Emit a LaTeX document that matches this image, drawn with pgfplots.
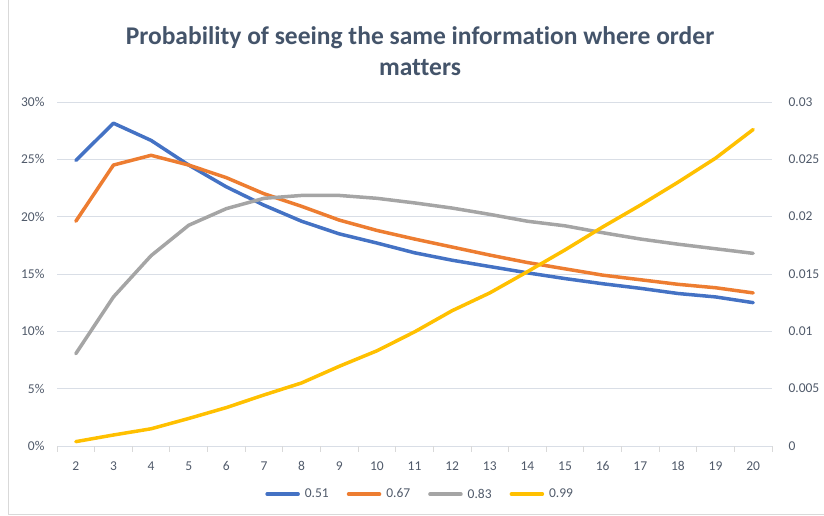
\documentclass[border=0pt]{standalone}
\usepackage{fontspec}
\setmainfont{Carlito}[Ligatures=NoCommon]
\usepackage{pgfplots}
\pgfplotsset{compat=1.18}
\definecolor{cblue}{HTML}{4472C4}
\definecolor{corange}{HTML}{ED7D31}
\definecolor{cgray}{HTML}{A5A5A5}
\definecolor{cyellow}{HTML}{FFC000}
\definecolor{ctitle}{HTML}{44546A}
\definecolor{ctick}{HTML}{505A6A}
\definecolor{cgrid}{HTML}{D9DEE6}
\definecolor{cframe}{HTML}{D9D9D9}
\begin{document}
\begin{tikzpicture}[x=1bp,y=1bp]
\path[use as bounding box] (0,0) rectangle (824,516);
\draw[cframe,line width=0.8bp] (8,516) -- (8,2) -- (824,2);
\node[text=ctitle,font=\fontsize{25.5bp}{31bp}\selectfont\bfseries,align=center] at (420,465) {Probability of seeing the same information where order\\matters};
\pgfplotsset{
  common/.style={
    scale only axis, width=715bp, height=344bp,
    at={(57bp,70bp)}, anchor=south west,
    xmin=1.5, xmax=20.5,
    ticklabel style={text=ctick,font=\fontsize{13.5bp}{15bp}\selectfont},
    /pgf/number format/assume math mode=true,
    axis line style={draw=none},
    major tick length=0pt,
    scaled y ticks=false,
  }
}
\begin{axis}[common,
  axis x line*=bottom, axis y line*=left,
  ymin=0, ymax=30,
  ytick={0,5,...,30},
  yticklabel={\pgfmathprintnumber{\tick}\%},
  xtick={2,...,20},
  extra x ticks={1.5,2.5,...,20.5},
  extra x tick labels={},
  extra x tick style={major tick length=6bp, tick align=outside, tick style={cframe,line width=0.8bp}},
  ymajorgrids, grid style={cgrid,line width=0.8bp},
  xticklabel style={yshift=-12bp},
  yticklabel style={xshift=-9bp},
  legend columns=4,
  legend style={draw=none, fill=none, at={(0.508,-0.14)}, anchor=center,
    font=\fontsize{13.5bp}{15bp}\selectfont, text=ctick,
    /tikz/every odd column/.append style={column sep=3bp},
    /tikz/every even column/.append style={column sep=16bp}},
  legend image code/.code={\draw[#1, line width=3.5bp, line cap=round] (0bp,0bp) -- (31bp,0bp);},
]
\addplot[cblue, line width=3.5bp, line cap=round, line join=round] coordinates {
(2,24.9) (3,28.15) (4,26.65) (5,24.5) (6,22.6) (7,21.0) (8,19.6) (9,18.5) (10,17.7) (11,16.85)
(12,16.2) (13,15.65) (14,15.1) (15,14.6) (16,14.15) (17,13.75) (18,13.3) (19,13.0) (20,12.5)};
\addlegendentry{0.51}
\addplot[corange, line width=3.5bp, line cap=round, line join=round] coordinates {
(2,19.6) (3,24.5) (4,25.35) (5,24.5) (6,23.4) (7,22.0) (8,20.9) (9,19.7) (10,18.8) (11,18.05)
(12,17.35) (13,16.65) (14,16.0) (15,15.45) (16,14.9) (17,14.5) (18,14.1) (19,13.8) (20,13.35)};
\addlegendentry{0.67}
\addplot[cgray, line width=3.5bp, line cap=round, line join=round] coordinates {
(2,8.05) (3,13.0) (4,16.6) (5,19.25) (6,20.7) (7,21.6) (8,21.85) (9,21.85) (10,21.6) (11,21.2)
(12,20.75) (13,20.2) (14,19.6) (15,19.2) (16,18.6) (17,18.05) (18,17.6) (19,17.2) (20,16.8)};
\addlegendentry{0.83}
\addlegendimage{cyellow}
\addlegendentry{0.99}
\end{axis}
\begin{axis}[common,
  axis x line=none, axis y line*=right,
  ymin=0, ymax=0.03,
  ytick={0,0.005,0.01,0.015,0.02,0.025,0.03},
  yticklabels={0,0.005,0.01,0.015,0.02,0.025,0.03},
  yticklabel style={anchor=west, xshift=13bp},
]
\addplot[cyellow, line width=3.5bp, line cap=round, line join=round] coordinates {
(2,0.00038) (3,0.00096) (4,0.0015) (5,0.0024) (6,0.00335) (7,0.00445) (8,0.0055) (9,0.00695) (10,0.0083) (11,0.00995)
(12,0.0118) (13,0.01335) (14,0.0152) (15,0.0171) (16,0.0191) (17,0.0210) (18,0.0230) (19,0.0251) (20,0.0276)};
\end{axis}
\end{tikzpicture}
\end{document}
